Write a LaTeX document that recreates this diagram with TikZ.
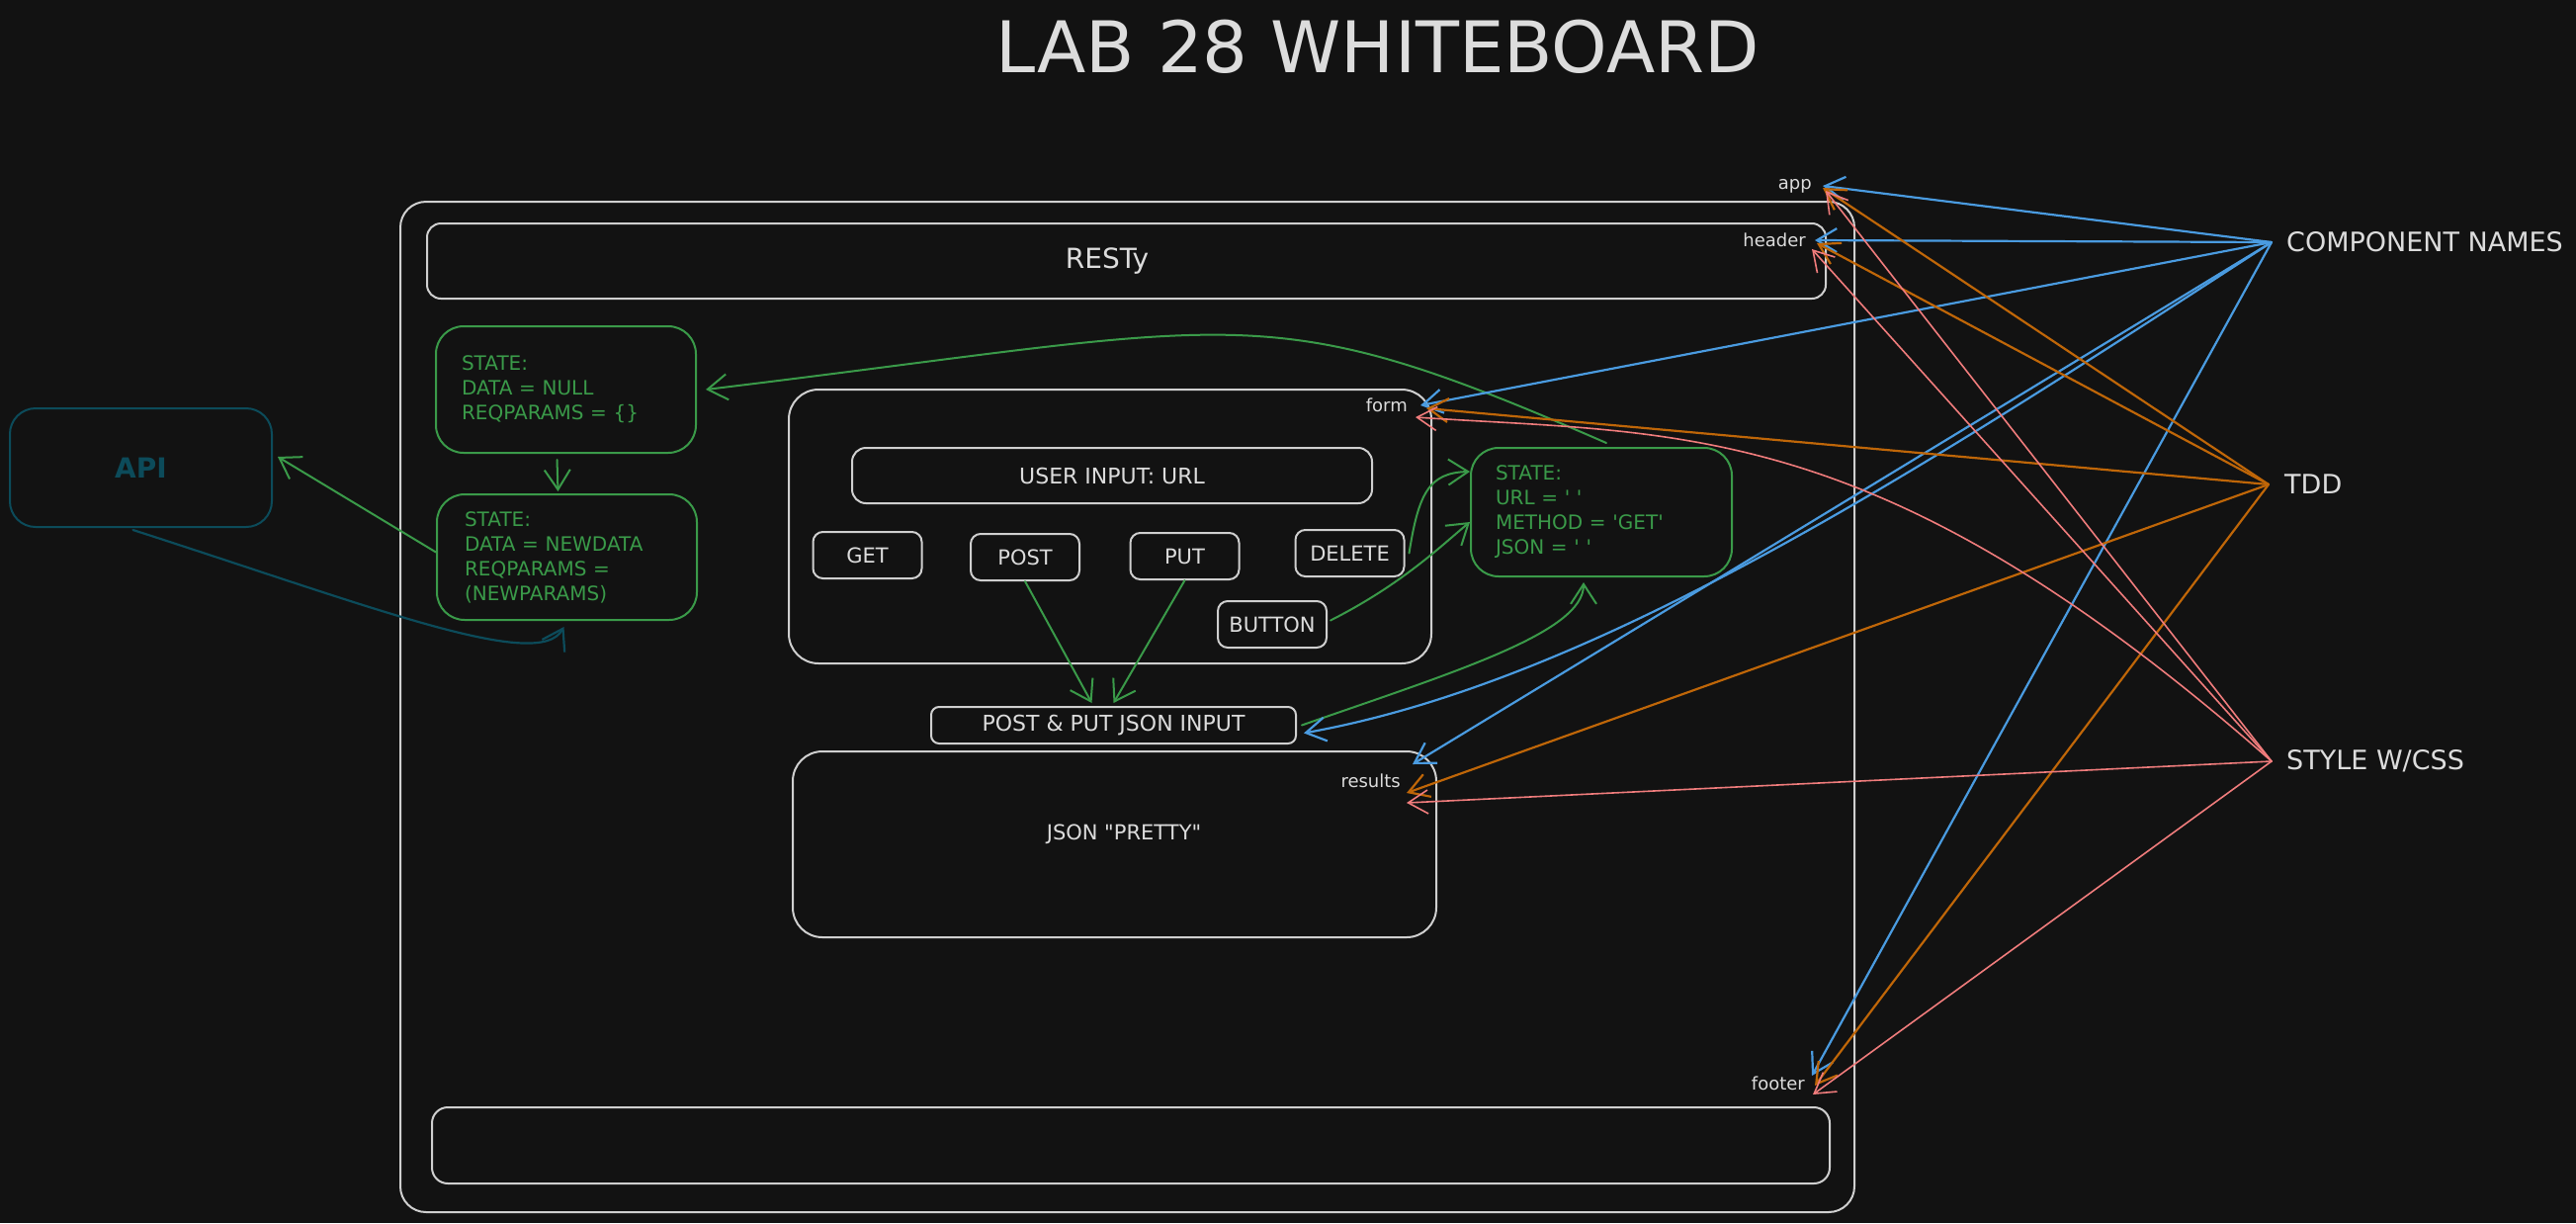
\documentclass[tikz,border=0pt]{standalone}
\usepackage{fontspec}
\setmainfont{DejaVu Sans}[Ligatures=TeXOff]
\usetikzlibrary{arrows.meta}
\definecolor{bgc}{HTML}{121212}
\definecolor{wline}{HTML}{CFCFCF}
\definecolor{wtext}{HTML}{DCDCDC}
\definecolor{grn}{HTML}{3A9A49}
\definecolor{blu}{HTML}{4A9BE0}
\definecolor{org}{HTML}{BF6608}
\definecolor{rdc}{HTML}{F07C7C}
\definecolor{tea}{HTML}{0C4B5A}
\newcommand\fnt[2]{\fontsize{#1}{#2}\selectfont}
\tikzset{
  wl/.style={draw=wline, line width=2pt, inner sep=0pt, text=wtext},
  wtxt/.style={inner sep=0pt, text=wtext},
  btn/.style={wl, rounded corners=10pt, minimum width=110pt, minimum height=47pt, font=\fnt{21}{24}},
  gb/.style={draw=grn, line width=2pt, rounded corners=28pt, text=grn, align=left, inner ysep=0pt, font=\fnt{20}{25}},
  lbl/.style={inner sep=0pt, text=wtext, font=\fnt{18}{20}},
  cat/.style={inner sep=0pt, text=wtext, font=\fnt{27}{30}},
  ttl/.style={inner sep=0pt, text=wtext, font=\fnt{72}{80}},
  garr/.style={draw=grn, line width=2pt, -{Straight Barb[length=20pt,width=26pt]}},
  tarr/.style={draw=tea, line width=2.2pt, -{Straight Barb[length=20pt,width=26pt]}},
  barr/.style={draw=blu, line width=2.2pt, -{Straight Barb[length=20pt,width=24pt]}},
  oarr/.style={draw=org, line width=2.2pt, -{Straight Barb[length=20pt,width=24pt]}},
  rarr/.style={draw=rdc, line width=1.6pt, -{Straight Barb[length=20pt,width=24pt]}},
}
\begin{document}
\begin{tikzpicture}[x=1pt,y=-1pt,line join=round,line cap=round]
\fill[bgc] (0,0) rectangle (2606,1237);
\useasboundingbox (0,0) rectangle (2606,1237);

% title
\node[ttl] (title) at (1394,47) {LAB 28 WHITEBOARD};

% app container
\node[wl, rounded corners=26pt, minimum width=1471pt, minimum height=1022pt] (appbox) at (1140.5,715) {};
\node[wl, rounded corners=14pt, minimum width=1415pt, minimum height=76pt] (headerbox) at (1139.5,264) {};
\node[wtxt, font=\fnt{28}{32}] (resty) at (1120,264) {RESTy};
\node[wl, rounded corners=16pt, minimum width=1414pt, minimum height=77pt] (footerbox) at (1144,1158.5) {};

% form
\node[wl, rounded corners=30pt, minimum width=650pt, minimum height=277pt] (form) at (1123,532.5) {};
\node[wl, rounded corners=14pt, minimum width=526pt, minimum height=56pt, font=\fnt{22}{24}] (url) at (1125,481) {USER INPUT: URL};
\node[btn] (get) at (877.5,561.5) {GET};
\node[btn] (post) at (1037,563.5) {POST};
\node[btn] (put) at (1198.5,562.5) {PUT};
\node[btn] (delete) at (1365.5,559.5) {DELETE};
\node[btn] (button) at (1287,631.5) {BUTTON};
\node[wl, rounded corners=8pt, minimum width=369pt, minimum height=37pt, font=\fnt{22}{24}] (jsonin) at (1126.5,733.5) {POST \& PUT JSON INPUT};

% results
\node[wl, rounded corners=30pt, minimum width=651pt, minimum height=188pt] (results) at (1127.5,854) {};
\node[wtxt, font=\fnt{21}{24}] (pretty) at (1137,844) {JSON "PRETTY"};

% state boxes
\node[gb, text width=211pt, inner xsep=26pt, minimum height=128pt] (s1) at (572.5,394) {STATE:\\DATA = NULL\\REQPARAMS = \{\}};
\node[gb, text width=207pt, inner xsep=28pt, minimum height=127pt] (s2) at (573.5,563.5) {STATE:\\DATA = NEWDATA\\REQPARAMS =\\(NEWPARAMS)};
\node[gb, text width=214pt, inner xsep=25pt, minimum height=130pt] (s3) at (1620,518) {STATE:\\URL = ' '\\METHOD = 'GET'\\JSON = ' '};

% API
\node[draw=tea, line width=2pt, rounded corners=26pt, minimum width=265pt, minimum height=120pt, text=tea, font=\fnt{28}{32}\bfseries] (api) at (142.5,473) {API};

% component labels
\node[lbl, anchor=east] (appl) at (1833,188) {app};
\node[lbl, anchor=east] (headerl) at (1827,243) {header};
\node[lbl, anchor=east] (forml) at (1424,410) {form};
\node[lbl, anchor=east] (resultsl) at (1417,790) {results};
\node[lbl, anchor=east] (footerl) at (1826,1096) {footer};

% categories
\node[cat, anchor=west] (cn) at (2313,245) {COMPONENT NAMES};
\node[cat, anchor=west] (tdd) at (2311,490) {TDD};
\node[cat, anchor=west] (css) at (2313,770) {STYLE W/CSS};
\coordinate (cnS) at ([xshift=-15pt]cn.west);
\coordinate (tddS) at ([xshift=-16pt]tdd.west);
\coordinate (cssS) at ([xshift=-15pt]css.west);

% green connectors
\draw[garr] ([xshift=-9pt,yshift=-6pt]s1.south) -- ([xshift=-9pt,yshift=2pt]s2.north);
\draw[garr] ([yshift=5pt]s2.west) -- ([xshift=5pt,yshift=11pt]api.east);
\draw[garr] (post.south) -- ([xshift=-22pt,yshift=3pt]jsonin.north);
\draw[garr] (put.south) -- ([yshift=3pt]jsonin.north);
\draw[garr] ([xshift=4pt]delete.east) .. controls (1435,500) and (1445,478) .. ([yshift=41pt]s3.west);
\draw[garr] ([xshift=3pt,yshift=4pt]button.east) .. controls (1420,590) and (1460,550) .. ([yshift=-10pt]s3.west);
\draw[garr] ([xshift=5pt]jsonin.east) .. controls (1470,680) and (1602,640) .. ([xshift=-18pt,yshift=-5pt]s3.south);
\draw[garr] ([xshift=5pt,yshift=4pt]s3.north) .. controls (1275,295) and (1263,328) .. ([xshift=9pt]s1.east);

% teal connector
\draw[tarr] ([xshift=-8pt,yshift=-2pt]api.south) .. controls (380,615) and (545,680) .. ([xshift=-3pt,yshift=-6pt]s2.south);

% blue: component names
\draw[barr] (cnS) -- ([xshift=11pt]appl.east);
\draw[barr] (cnS) -- ([xshift=9pt]headerl.east);
\draw[barr] (cnS) -- ([xshift=13pt]forml.east);
\draw[barr] (cnS) .. controls (1948,472) and (1618,688) .. ([xshift=7pt,yshift=-8pt]jsonin.east);
\draw[barr] (cnS) -- ([xshift=12pt,yshift=17pt]resultsl.east);
\draw[barr] (cnS) -- ([xshift=7pt,yshift=8pt]footerl.east);

% orange: TDD
\draw[oarr] (tddS) -- ([xshift=11pt,yshift=-2pt]appl.east);
\draw[oarr] (tddS) -- ([xshift=11pt,yshift=-3pt]headerl.east);
\draw[oarr] (tddS) -- ([xshift=19pt,yshift=-3pt]forml.east);
\draw[oarr] (tddS) -- ([xshift=6pt,yshift=-12pt]resultsl.east);
\draw[oarr] (tddS) -- ([xshift=10pt,yshift=-2pt]footerl.east);

% red: style w/css
\draw[rarr] (cssS) -- ([xshift=14pt,yshift=-5pt]appl.east);
\draw[rarr] (cssS) -- ([xshift=6pt,yshift=-9pt]headerl.east);
\draw[rarr] (cssS) .. controls (1900,420) and (1700,440) .. ([xshift=8pt,yshift=-12pt]forml.east);
\draw[rarr] (cssS) -- ([xshift=6pt,yshift=-22pt]resultsl.east);
\draw[rarr] (cssS) -- ([xshift=8pt,yshift=-11pt]footerl.east);
\end{tikzpicture}
\end{document}
